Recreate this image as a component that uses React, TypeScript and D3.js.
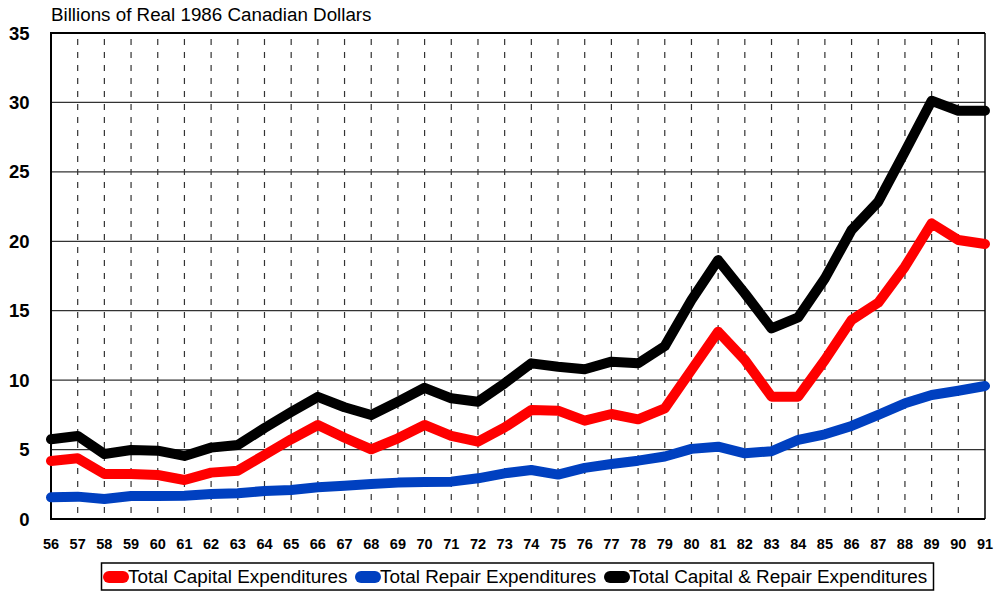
import React from "react";
import * as d3 from "d3";

const years = ["56","57","58","59","60","61","62","63","64","65","66","67","68","69","70","71","72","73","74","75","76","77","78","79","80","81","82","83","84","85","86","87","88","89","90","91"];
const capital = [4.18,4.37,3.24,3.24,3.17,2.81,3.34,3.48,4.61,5.74,6.77,5.85,5.02,5.81,6.77,5.98,5.57,6.6,7.85,7.8,7.08,7.56,7.18,7.97,10.73,13.49,11.45,8.81,8.81,11.45,14.33,15.58,18.17,21.29,20.09,19.8];
const repair = [1.56,1.61,1.44,1.66,1.66,1.68,1.8,1.85,2.02,2.09,2.28,2.4,2.52,2.62,2.66,2.69,2.93,3.29,3.53,3.2,3.68,3.96,4.2,4.5,5.05,5.21,4.73,4.88,5.7,6.1,6.7,7.49,8.33,8.93,9.24,9.58];
const total = [5.74,5.98,4.68,4.97,4.92,4.54,5.14,5.33,6.55,7.7,8.8,8.05,7.49,8.45,9.45,8.69,8.45,9.77,11.21,10.97,10.78,11.33,11.21,12.45,15.77,18.65,16.25,13.73,14.52,17.33,20.81,22.85,26.45,30.12,29.4,29.4];
const yTicks = [0,5,10,15,20,25,30,35];
const seriesNames = ["Total Capital Expenditures","Total Repair Expenditures","Total Capital & Repair Expenditures"];
const seriesColors = ["#ff0000","#0040c0","#000000"];
const title = "Billions of Real 1986 Canadian Dollars";

export default function App() {
  const W = 995, H = 592;
  const left = 51, right = 985, top = 33, bottom = 519;
  const x = d3.scalePoint<string>().domain(years).range([left, right]);
  const y = d3.scaleLinear().domain([0, 35]).range([bottom, top]);
  const line = d3.line<number>().x((_, i) => x(years[i])!).y((d) => y(d));
  const data = [capital, repair, total];
  const font = "'Liberation Sans', Arial, Helvetica, sans-serif";

  const legendItems = [
    { sx: 109, tx: 128 },
    { sx: 361, tx: 380 },
    { sx: 610, tx: 629 },
  ];

  return (
    <svg width={W} height={H} style={{ position: "absolute", left: 0, top: 0, background: "#fff" }} fontFamily={font}>
      <rect x={0} y={0} width={W} height={H} fill="#fff" />
      <text x={51} y={21} fontSize={18.8} fill="#000">{title}</text>
      {years.slice(1, -1).map((yr) => (
        <line key={yr} x1={x(yr)} x2={x(yr)} y1={top + 6} y2={bottom} stroke="#333" strokeWidth={1.2} strokeDasharray="6,7" />
      ))}
      {yTicks.slice(1, -1).map((t) => (
        <line key={t} x1={left} x2={right} y1={y(t)} y2={y(t)} stroke="#333" strokeWidth={1.2} />
      ))}
      <line x1={left} x2={right} y1={top} y2={top} stroke="#000" strokeWidth={2} />
      <line x1={right} x2={right} y1={top} y2={bottom} stroke="#000" strokeWidth={1.5} />
      <line x1={left} x2={left} y1={top - 1} y2={bottom + 1} stroke="#000" strokeWidth={2} />
      <line x1={left} x2={right} y1={bottom} y2={bottom} stroke="#000" strokeWidth={2} />
      {yTicks.map((t) => (
        <text key={t} x={29.5} y={y(t) + 6.5} textAnchor="end" fontSize={18.5} fontWeight="bold">{t}</text>
      ))}
      {years.map((yr) => (
        <text key={yr} x={x(yr)} y={549} textAnchor="middle" fontSize={14.5} fontWeight="bold">{yr}</text>
      ))}
      {data.map((d, i) => (
        <path key={i} d={line(d)!} fill="none" stroke={seriesColors[i]} strokeWidth={10} strokeLinejoin="round" strokeLinecap="round" />
      ))}
      <rect x={101.5} y={563} width={832} height={27} fill="#fff" stroke="#000" strokeWidth={1.5} />
      {seriesNames.map((n, i) => (
        <g key={n}>
          <line x1={legendItems[i].sx} x2={legendItems[i].sx + 14} y1={577} y2={577} stroke={seriesColors[i]} strokeWidth={12} strokeLinecap="round" />
          <text x={legendItems[i].tx} y={583} fontSize={18.9}>{n}</text>
        </g>
      ))}
    </svg>
  );
}
